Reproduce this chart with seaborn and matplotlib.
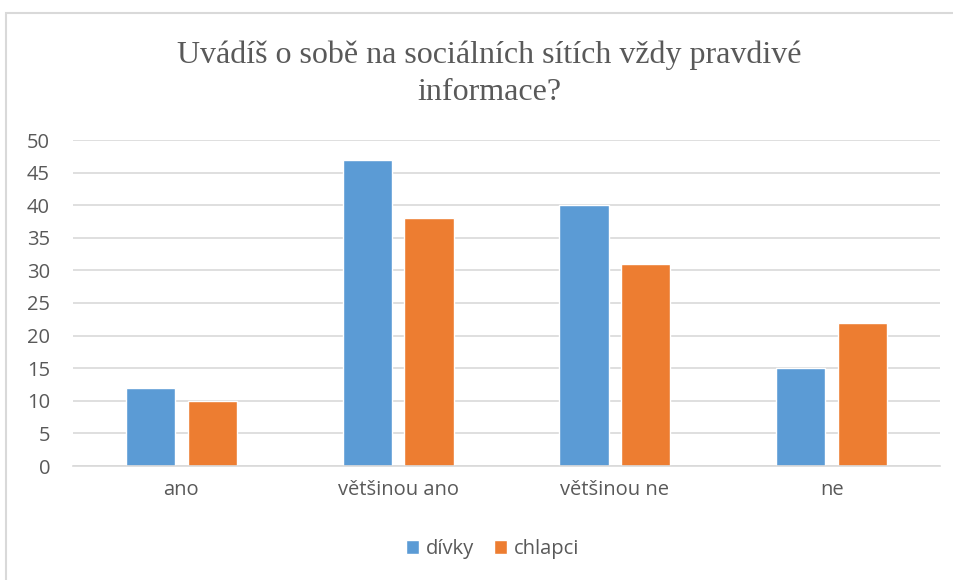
import matplotlib
matplotlib.use("Agg")
import matplotlib.pyplot as plt
import seaborn as sns
import pandas as pd
from matplotlib.patches import Rectangle

categories = ["ano", "většinou ano", "většinou ne", "ne"]
divky = [12, 47, 40, 15]
chlapci = [10, 38, 31, 22]
series_names = ["dívky", "chlapci"]
title = "Uvádíš o sobě na sociálních sítích vždy pravdivé\ninformace?"
yticks = [0, 5, 10, 15, 20, 25, 30, 35, 40, 45, 50]

df = pd.DataFrame({
    "kategorie": categories * 2,
    "pohlaví": [series_names[0]] * 4 + [series_names[1]] * 4,
    "hodnota": divky + chlapci,
})

sns.set_theme(style="white")
plt.rcParams['font.family'] = ['Open Sans', 'DejaVu Sans']
txt = "#595959"
grid = "#D9D9D9"

fig = plt.figure(figsize=(9.54, 5.8), dpi=100)
ax = fig.add_axes([73/954, 1-466/580, (940-73)/954, (466-140)/580])

sns.barplot(data=df, x="kategorie", y="hodnota", hue="pohlaví",
            palette=["#5B9BD5", "#ED7D31"], width=0.568, gap=0.2,
            ax=ax, legend=True, saturation=1)

ax.set_xlim(-0.5, 3.5)
ax.set_ylim(0, 50)
ax.set_yticks(yticks)
ax.set_yticklabels([str(t) for t in yticks], color=txt, fontsize=14.5)
ax.tick_params(axis="y", length=0, pad=16.5)
ax.tick_params(axis="x", length=0, pad=10, labelsize=14.5, labelcolor=txt)
ax.set_xlabel("")
ax.set_ylabel("")
ax.yaxis.grid(True, color=grid, linewidth=1.2)
ax.set_axisbelow(True)
for s in ["top", "right", "left"]:
    ax.spines[s].set_visible(False)
ax.spines["bottom"].set_color(grid)
ax.spines["bottom"].set_linewidth(1.2)

leg = ax.legend(loc="center", bbox_to_anchor=(0.484, -0.255), ncol=2, frameon=False,
                fontsize=14.5, handlelength=0.65, handleheight=0.65, handletextpad=0.35,
                columnspacing=0.95)
for t in leg.get_texts():
    t.set_color(txt)

fig.text(489/954, 1-74/580, title, ha="center", va="center", fontsize=23,
         family=["Liberation Serif"], color=txt, linespacing=1.35)

fig.patches.append(Rectangle((6.5/954, -0.1), 1.2, 1.1 - 12.5/580,
                             transform=fig.transFigure, fill=False,
                             edgecolor=grid, linewidth=1.5, zorder=0))

fig.savefig("out.png", dpi=100)
